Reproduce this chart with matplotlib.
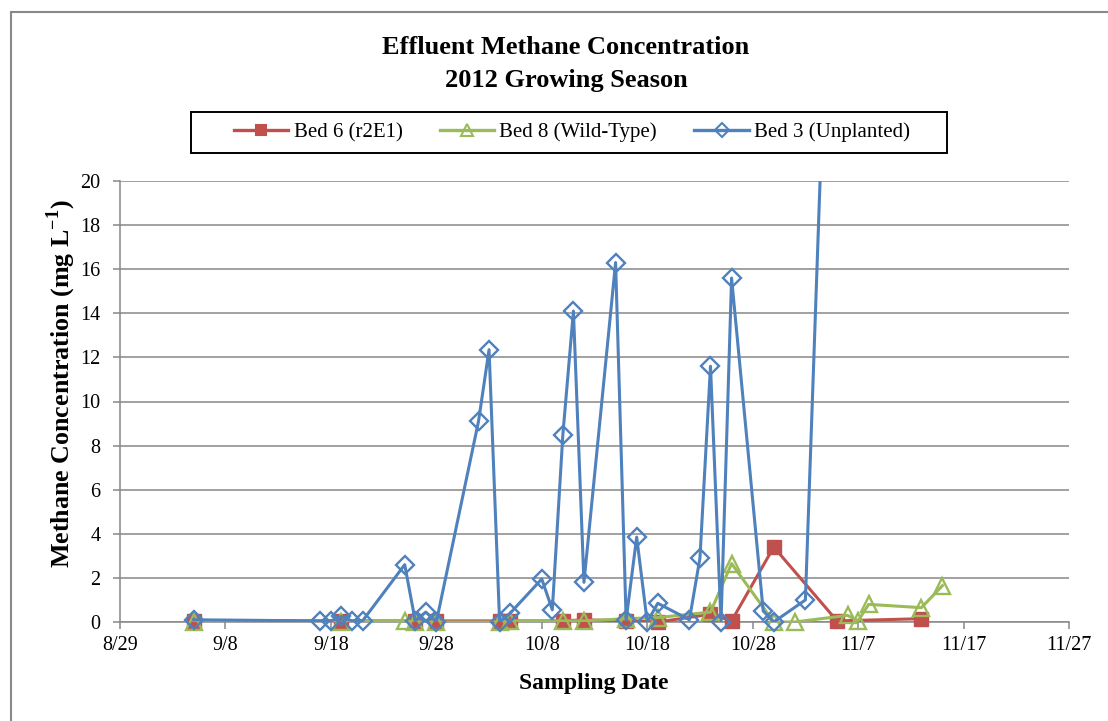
import matplotlib
matplotlib.use("Agg")
import matplotlib.pyplot as plt
from matplotlib.patches import Rectangle
import numpy as np
from datetime import datetime

plt.rcParams['font.family'] = ['Liberation Serif', 'DejaVu Serif']
plt.rcParams['mathtext.fontset'] = 'custom'
plt.rcParams['mathtext.rm'] = 'Liberation Serif'
plt.rcParams['mathtext.bf'] = 'Liberation Serif:bold'

YEAR = 2012

bed6_dates = ['9/5', '9/19', '9/26', '9/28', '10/4', '10/5', '10/10', '10/12', '10/16',
              '10/19', '10/24', '10/26', '10/30', '11/5', '11/13']
bed6_vals = [0.05, 0.05, 0.05, 0.05, 0.05, 0.05, 0.05, 0.1, 0.05,
             0.0, 0.35, 0.05, 3.4, 0.05, 0.15]

bed8_dates = ['9/5', '9/19', '9/25', '9/26', '9/28', '10/4', '10/5', '10/10', '10/12', '10/16',
              '10/19', '10/24', '10/26', '10/30', '11/1', '11/6', '11/7', '11/8', '11/13', '11/15']
bed8_vals = [0.0, 0.0, 0.05, 0.0, 0.0, 0.0, 0.05, 0.05, 0.05, 0.15,
             0.2, 0.45, 2.65, 0.0, 0.0, 0.3, 0.05, 0.8, 0.65, 1.65]

bed3_dates = ['9/5', '9/17', '9/18', '9/19', '9/20', '9/21', '9/25', '9/26', '9/27', '9/28',
              '10/2', '10/3', '10/4', '10/5', '10/8', '10/9', '10/10', '10/11', '10/12',
              '10/15', '10/16', '10/17', '10/18', '10/19', '10/22', '10/23', '10/24',
              '10/25', '10/26', '10/29', '10/30', '11/2', '11/5']
bed3_vals = [0.1, 0.05, 0.05, 0.25, 0.05, 0.05, 2.6, 0.05, 0.45, 0.0,
             9.1, 12.35, 0.0, 0.4, 1.95, 0.55, 8.5, 14.1, 1.8,
             16.3, 0.1, 3.85, 0.0, 0.85, 0.1, 2.9, 11.6,
             0.0, 15.6, 0.5, 0.0, 1.0, 42.0]

tick_labels = ['8/29', '9/8', '9/18', '9/28', '10/8', '10/18', '10/28', '11/7', '11/17', '11/27']

def to_dt(s):
    m, d = s.split('/')
    return datetime(YEAR, int(m), int(d))

W, H = 1108, 721
fig = plt.figure(figsize=(W / 100, H / 100), dpi=100)

# chart border
fig.patches.append(Rectangle((11 / W, -0.1), 1.2, 1 - 12 / H + 0.1, transform=fig.transFigure,
                             fill=False, edgecolor='#898989', linewidth=1.5, zorder=0))
# legend box
fig.patches.append(Rectangle((191 / W, 1 - 153 / H), (947 - 191) / W, 41 / H, transform=fig.transFigure,
                             fill=False, edgecolor='black', linewidth=1.4, zorder=1))

ax = fig.add_axes([120 / W, 1 - 622 / H, (1069 - 120) / W, (622 - 181) / H])

series = [
    ('Bed 6 (r2E1)', bed6_dates, bed6_vals, '#C0504D', 's',
     dict(markerfacecolor='#C0504D', markersize=10.5, markeredgewidth=1.0), 7.5),
    ('Bed 8 (Wild-Type)', bed8_dates, bed8_vals, '#9BBB59', '^',
     dict(markerfacecolor='none', markersize=11, markeredgewidth=1.7), 8),
    ('Bed 3 (Unplanted)', bed3_dates, bed3_vals, '#4F81BD', 'D',
     dict(markerfacecolor='none', markersize=9, markeredgewidth=1.7), 7),
]

handles = []
for z, (lab, ds, vs, col, mk, kw, lms) in enumerate(series):
    x = [to_dt(s) for s in ds]
    v = np.array(vs)
    ax.plot(x, v, color=col, lw=2.2, zorder=3 + z * 2)
    xm = [xi for xi, vi in zip(x, v) if vi <= 20]
    vm = [vi for vi in v if vi <= 20]
    ax.plot(xm, vm, ls='none', marker=mk, color=col, markeredgecolor=col,
            clip_on=False, zorder=4 + z * 2, **kw)
    h, = ax.plot([], [], color=col, lw=2.4, marker=mk, markeredgecolor=col,
                 markerfacecolor=kw['markerfacecolor'], markersize=lms,
                 markeredgewidth=1.5)
    handles.append((h, lab))

ax.set_ylim(0, 20)
ax.set_yticks(np.arange(0, 21, 2))
ticks = [to_dt(t) for t in tick_labels]
ax.set_xlim(ticks[0], ticks[-1])
ax.set_xticks(ticks)
ax.set_xticklabels(tick_labels)

ax.grid(axis='y', color='#878787', lw=1.1)
ax.set_axisbelow(True)
for s in ['top', 'right']:
    ax.spines[s].set_visible(False)
for s in ['left', 'bottom']:
    ax.spines[s].set_color('#878787')
    ax.spines[s].set_linewidth(1.1)
ax.tick_params(axis='both', colors='#878787', labelcolor='black', labelsize=14.5, length=5, width=1.1)
ax.tick_params(axis='y', pad=9)
ax.tick_params(axis='x', pad=5)

fig.text(566 / W, 1 - 48 / H, 'Effluent Methane Concentration', ha='center', va='center',
         fontsize=19, fontweight='bold')
fig.text(566 / W, 1 - 80 / H, '2012 Growing Season', ha='center', va='center',
         fontsize=19, fontweight='bold')

fig.text(594 / W, 1 - 683 / H, 'Sampling Date', ha='center', va='center', fontsize=17, fontweight='bold')
fig.text(61 / W, 1 - 384 / H, r'Methane Concentration (mg L$^{\mathbf{-1}}$)', ha='center', va='center',
         rotation=90, fontsize=18.7, fontweight='bold')

leg = fig.legend([h for h, _ in handles], [l for _, l in handles], loc='center',
                 bbox_to_anchor=(572 / W, 1 - 132.5 / H), ncol=3, fontsize=15,
                 frameon=False, handlelength=2.6, handletextpad=0.25, columnspacing=1.8,
                 borderpad=0.3)

fig.savefig('out.png', dpi=100)
